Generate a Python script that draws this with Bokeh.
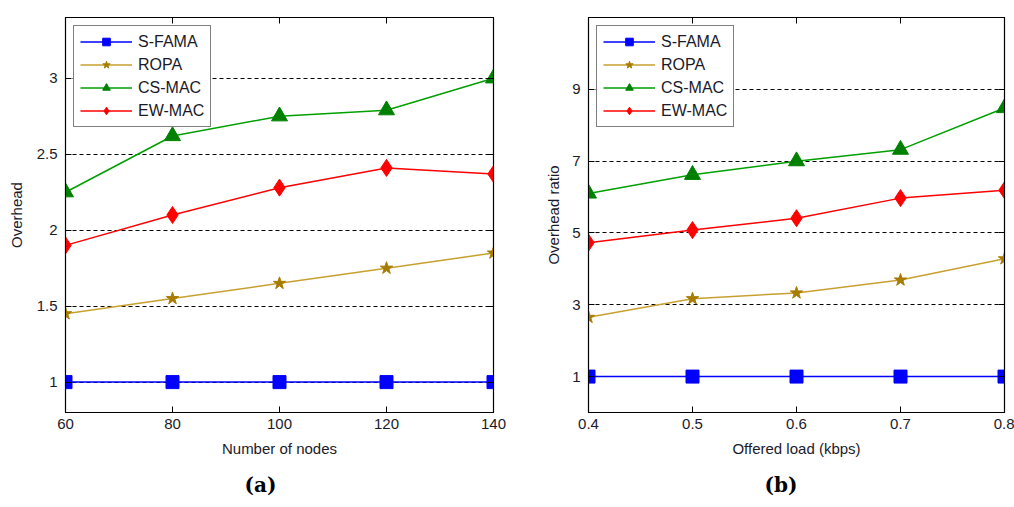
from bokeh.plotting import figure
from bokeh.layouts import row
from bokeh.models import (Range1d, FixedTicker, LinearAxis, Legend, LegendItem, Title)
from bokeh.embed import file_html
from bokeh.resources import INLINE

# ---------------- data ----------------
series_names = ["S-FAMA", "ROPA", "CS-MAC", "EW-MAC"]

nodes = [60, 80, 100, 120, 140]
a_sfama = [1.0, 1.0, 1.0, 1.0, 1.0]
a_ropa = [1.45, 1.55, 1.65, 1.75, 1.85]
a_csmac = [2.25, 2.62, 2.75, 2.79, 3.0]
a_ewmac = [1.90, 2.10, 2.28, 2.41, 2.37]
a_yticks = [1, 1.5, 2, 2.5, 3]
a_ytick_labels = ["1", "1.5", "2", "2.5", "3"]
a_xticks = [60, 80, 100, 120, 140]

load = [0.4, 0.5, 0.6, 0.7, 0.8]
b_sfama = [1.0, 1.0, 1.0, 1.0, 1.0]
b_ropa = [2.65, 3.17, 3.33, 3.69, 4.28]
b_csmac = [6.1, 6.62, 7.0, 7.32, 8.48]
b_ewmac = [4.73, 5.08, 5.41, 5.97, 6.19]
b_yticks = [1, 3, 5, 7, 9]
b_ytick_labels = ["1", "3", "5", "7", "9"]
b_xticks = [0.4, 0.5, 0.6, 0.7, 0.8]
b_xtick_labels = ["0.4", "0.5", "0.6", "0.7", "0.8"]

FONT = "Liberation Sans"
TXT = "#1a1a2a"

styles = [
    dict(line="#0000FF", fill="#0000FF", marker="square", size=13),
    dict(line="#C8A030", fill="#A87C00", marker="star", size=13),
    dict(line="#00A000", fill="#008000", marker="triangle", size=16),
    dict(line="#FF0000", fill="#FF0000", marker="diamond", size=17),
]


def make_panel(x, ys, xr, yr, xticks, yticks, ylabels, xlabel, ylabel,
               width, left, right, caption, cap_offset, xlabels=None, label_standoff=10):
    top, fh = 17, 395
    p = figure(width=width, height=507, output_backend="svg", toolbar_location=None,
               x_range=Range1d(*xr), y_range=Range1d(*yr),
               min_border_left=left, min_border_right=right,
               min_border_top=top, min_border_bottom=507 - top - fh)
    p.background_fill_color = "white"
    p.border_fill_color = "white"
    p.outline_line_color = "black"
    p.outline_line_width = 1.2

    p.xgrid.visible = False
    p.ygrid.ticker = FixedTicker(ticks=yticks)
    p.ygrid.grid_line_color = "black"
    p.ygrid.grid_line_dash = "4 3"
    p.ygrid.grid_line_width = 1.2

    for ax, ticks in ((p.xaxis[0], xticks), (p.yaxis[0], yticks)):
        ax.ticker = FixedTicker(ticks=ticks)
        ax.minor_tick_line_color = None
        ax.major_tick_in = 6
        ax.major_tick_out = 0
        ax.major_tick_line_color = "black"
        ax.axis_line_color = "black"
        ax.major_label_text_font = FONT
        ax.major_label_text_font_size = "15px"
        ax.major_label_text_color = TXT
        ax.axis_label_text_font = FONT
        ax.axis_label_text_font_size = "15px"
        ax.axis_label_text_font_style = "normal"
        ax.axis_label_text_color = TXT
    p.yaxis[0].major_label_overrides = {t: l for t, l in zip(yticks, ylabels)}
    if xlabels:
        p.xaxis[0].major_label_overrides = {t: l for t, l in zip(xticks, xlabels)}
    p.xaxis[0].axis_label = xlabel
    p.yaxis[0].axis_label = ylabel
    p.xaxis[0].major_label_standoff = 6
    p.xaxis[0].axis_label_standoff = 8
    p.yaxis[0].major_label_standoff = 8
    p.yaxis[0].axis_label_standoff = label_standoff

    # mirror ticks on top and right (box style), no labels
    for loc, ticks in (("above", xticks), ("right", yticks)):
        ax = LinearAxis(ticker=FixedTicker(ticks=ticks))
        ax.major_label_text_font_size = "0px"
        ax.major_label_text_color = None
        ax.major_label_standoff = 0
        ax.minor_tick_line_color = None
        ax.major_tick_in = 6
        ax.major_tick_out = 0
        ax.major_tick_line_color = "black"
        ax.axis_line_color = "black"
        p.add_layout(ax, loc)

    items = []
    for name, y, st in zip(series_names, ys, styles):
        r1 = p.line(x, y, line_color=st["line"], line_width=1.5)
        r2 = p.scatter(x, y, marker=st["marker"], size=st["size"],
                       fill_color=st["fill"], line_color=st["fill"], line_width=1)
        items.append(LegendItem(label=name, renderers=[r1, r2]))

    leg = Legend(items=items, location="top_left")
    leg.margin = 8
    leg.padding = 6
    leg.spacing = 4
    leg.glyph_width = 52
    leg.glyph_height = 19
    leg.label_height = 19
    leg.label_standoff = 6
    leg.label_text_font = FONT
    leg.label_text_font_size = "16px"
    leg.label_text_color = TXT
    leg.border_line_color = "black"
    leg.border_line_width = 1.2
    leg.background_fill_color = "white"
    leg.background_fill_alpha = 1
    p.add_layout(leg, "center")

    cap = Title(text="(" + caption + ")", align="left", offset=cap_offset,
                vertical_align="bottom",
                text_font="DejaVu Serif", text_font_size="20px",
                text_font_style="bold", text_color="black", standoff=22)
    p.add_layout(cap, "below")
    return p


p1 = make_panel(nodes, [a_sfama, a_ropa, a_csmac, a_ewmac], (60, 140), (0.8, 3.4),
                a_xticks, a_yticks, a_ytick_labels, "Number of nodes", "Overhead",
                width=520, left=65, right=27, caption="a", cap_offset=179,
                label_standoff=9)
p2 = make_panel(load, [b_sfama, b_ropa, b_csmac, b_ewmac], (0.4, 0.8), (0, 11),
                b_xticks, b_yticks, b_ytick_labels, "Offered load (kbps)", "Overhead ratio",
                width=494, left=68, right=10, caption="b", cap_offset=176,
                xlabels=b_xtick_labels, label_standoff=7)

layout = row(p1, p2)
open("out.html", "w").write(file_html(layout, INLINE))
